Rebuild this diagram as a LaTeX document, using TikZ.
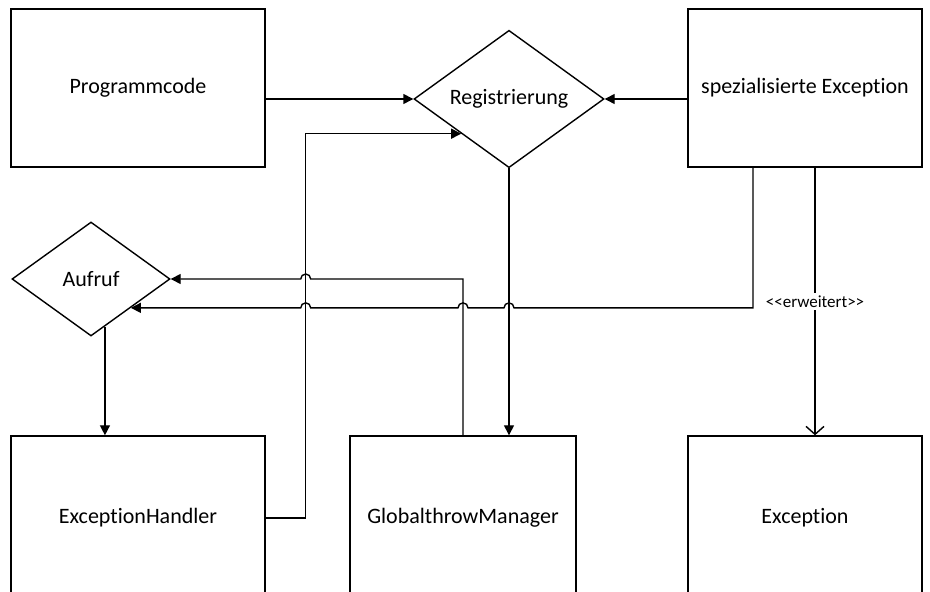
\documentclass[tikz,border=0pt]{standalone}
\usepackage{fontspec}
\setmainfont{Carlito}[Ligatures=NoCommon]
\usetikzlibrary{shapes.geometric,arrows.meta,calc}

\begin{document}
\begin{tikzpicture}[x=0.5pt, y=-0.5pt,
      box/.style={draw, line width=0.7pt, inner sep=0pt, align=center,
                  font=\fontsize{11}{13}\selectfont},
      raute/.style={draw, diamond, line width=0.7pt, inner sep=0pt,
                  font=\fontsize{11}{13}\selectfont},
      arr/.style={-{Triangle[length=5pt,width=5pt]}, line width=0.7pt},
      oarr/.style={-{Straight Barb[length=4pt,width=9pt]}, line width=0.7pt},
      lbl/.style={fill=white, inner sep=1.5pt, font=\fontsize{8.5}{10}\selectfont}
    ]
    \clip (0,0) rectangle (930,592);
    % Nodes
    \node[box, minimum width=127pt, minimum height=79pt] (prog) at (138,88) {Programmcode};
    \node[raute, minimum width=95pt, minimum height=67pt] (reg) at (509,99) {Registrierung};
    \node[box, minimum width=117pt, minimum height=79pt] (spez) at (805,88) {spezialisierte Exception};
    \node[raute, minimum width=79pt, minimum height=57pt] (auf) at (91,279) {Aufruf};
    \node[box, minimum width=127pt, minimum height=82pt] (eh) at (138,518) {ExceptionHandler};
    \node[box, minimum width=113pt, minimum height=82pt] (gm) at (463,518) {GlobalthrowManager};
    \node[box, minimum width=117pt, minimum height=82pt] (ex) at (805,518) {Exception};
    % Helper points
    \coordinate (hx) at ($(eh.east)+(40,0)$);
    \coordinate (s1) at ($(spez.south)+(-52,0)$);
    \coordinate (s2) at ($(spez.south)+(10,0)$);
    \coordinate (aufout) at ($(auf.south)!0.35!(auf.south east)$);
    % Arrows
    \draw[arr] (prog.east |- reg.west) -- (reg.west);
    \draw[arr] (spez.west |- reg.east) -- (reg.east);
    \draw[arr] (eh.east) -- (hx) |- (reg.south west);
    \draw[arr] (reg.south) -- (reg.south |- gm.north);
    \draw[arr] (aufout) -- (aufout |- eh.north);
    \draw[arr] (gm.north) -- (gm.north |- auf.east)
      -- ($(hx |- auf.east)+(5,0)$) arc[start angle=0, end angle=180, radius=2.5pt]
      -- (auf.east);
    \draw[arr] (s1) -- (s1 |- auf.south east)
      -- ($(reg.south |- auf.south east)+(5,0)$) arc[start angle=0, end angle=180, radius=2.5pt]
      -- ($(gm.north |- auf.south east)+(5,0)$) arc[start angle=0, end angle=180, radius=2.5pt]
      -- ($(hx |- auf.south east)+(5,0)$) arc[start angle=0, end angle=180, radius=2.5pt]
      -- (auf.south east);
    % Extension
    \draw[oarr] (s2) -- node[lbl]{{<}{<}erweitert{>}{>}} (s2 |- ex.north);
  \end{tikzpicture}
\end{document}
